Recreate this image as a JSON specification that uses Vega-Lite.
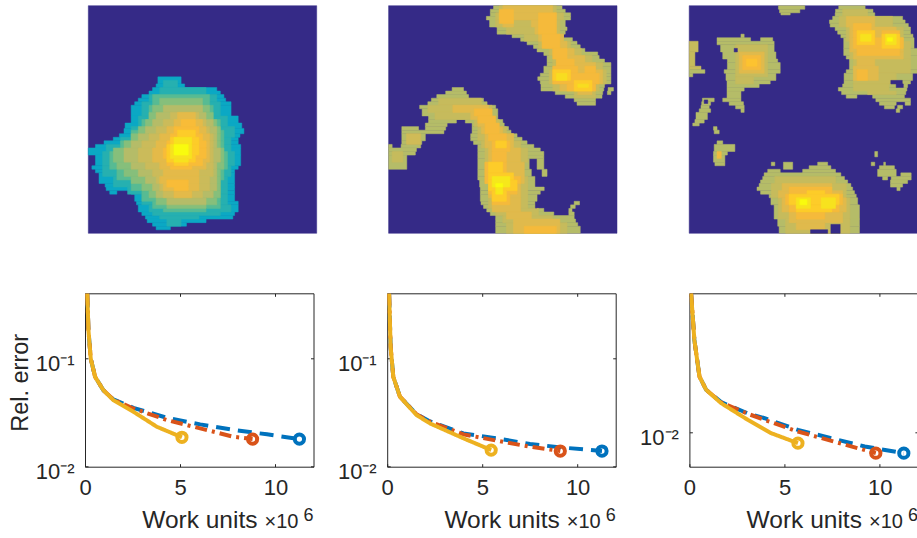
{
"$schema":"https://vega.github.io/schema/vega-lite/v6.json",
"autosize":{"type":"none"},
"padding":{"left":85,"top":5.7,"right":832,"bottom":532.3},
"bounds":"flush",
"spacing":287.6,
"config":{"view":{"stroke":null},"font":"Liberation Sans"},
"datasets":{
"img1":[
{"x0":0,"x1":64,"y0":0,"y1":64,"v":0},
{"x0":19.5,"x1":26,"y0":20,"y1":22,"v":0.38},{"x0":19,"x1":27,"y0":22,"y1":23,"v":0.38},{"x0":18,"x1":36,"y0":23,"y1":24,"v":0.38},{"x0":17,"x1":37,"y0":24,"y1":25,"v":0.38},{"x0":15,"x1":38,"y0":25,"y1":26,"v":0.38},{"x0":14,"x1":38.5,"y0":26,"y1":27,"v":0.38},{"x0":13,"x1":40,"y0":27,"y1":28,"v":0.38},{"x0":12,"x1":40,"y0":28,"y1":31,"v":0.38},{"x0":12,"x1":42,"y0":31,"y1":33,"v":0.38},{"x0":10.3,"x1":43,"y0":33,"y1":34.5,"v":0.38},{"x0":10,"x1":43.6,"y0":34.5,"y1":36,"v":0.38},{"x0":8.7,"x1":42.5,"y0":36,"y1":37,"v":0.38},{"x0":7,"x1":42,"y0":37,"y1":38,"v":0.38},{"x0":4.4,"x1":42,"y0":38,"y1":39,"v":0.38},{"x0":2,"x1":42.7,"y0":39,"y1":40,"v":0.38},{"x0":0,"x1":42.7,"y0":40,"y1":42,"v":0.38},{"x0":2,"x1":42.7,"y0":42,"y1":45,"v":0.38},{"x0":1,"x1":42,"y0":45,"y1":46,"v":0.38},{"x0":2,"x1":41,"y0":46,"y1":47,"v":0.38},{"x0":3,"x1":41,"y0":47,"y1":50,"v":0.38},{"x0":4.7,"x1":41,"y0":50,"y1":51,"v":0.38},{"x0":5,"x1":41,"y0":51,"y1":52,"v":0.38},{"x0":6,"x1":8,"y0":52,"y1":53,"v":0.38},{"x0":12,"x1":41,"y0":52,"y1":53,"v":0.38},{"x0":13,"x1":41,"y0":53,"y1":55,"v":0.38},{"x0":13.5,"x1":42,"y0":55,"y1":56,"v":0.38},{"x0":14,"x1":42,"y0":56,"y1":58,"v":0.38},{"x0":15,"x1":41,"y0":58,"y1":59,"v":0.38},{"x0":16,"x1":40.5,"y0":59,"y1":60,"v":0.38},{"x0":16.5,"x1":33,"y0":60,"y1":61,"v":0.38},{"x0":18,"x1":27.5,"y0":61,"y1":62,"v":0.38},{"x0":19,"x1":23,"y0":62,"y1":63,"v":0.38},
{"x0":21,"x1":25,"y0":21,"y1":23,"v":0.44},{"x0":20,"x1":33,"y0":23,"y1":25,"v":0.44},{"x0":17,"x1":36,"y0":25,"y1":27,"v":0.44},{"x0":15,"x1":37,"y0":27,"y1":31,"v":0.44},{"x0":14,"x1":39,"y0":31,"y1":34,"v":0.44},{"x0":12,"x1":41,"y0":34,"y1":37,"v":0.44},{"x0":9,"x1":40,"y0":37,"y1":39,"v":0.44},{"x0":5,"x1":40,"y0":39,"y1":41,"v":0.44},{"x0":4,"x1":41,"y0":41,"y1":45,"v":0.44},{"x0":4,"x1":40,"y0":45,"y1":48,"v":0.44},{"x0":7,"x1":39,"y0":48,"y1":51,"v":0.44},{"x0":11,"x1":39,"y0":51,"y1":53,"v":0.44},{"x0":15,"x1":39,"y0":53,"y1":56,"v":0.44},{"x0":17,"x1":40,"y0":56,"y1":58,"v":0.44},{"x0":18,"x1":37,"y0":58,"y1":59,"v":0.44},{"x0":20,"x1":31,"y0":59,"y1":60,"v":0.44},{"x0":22,"x1":26,"y0":60,"y1":62,"v":0.44},
{"x0":18,"x1":34,"y0":25,"y1":28,"v":0.54},{"x0":17,"x1":35,"y0":28,"y1":32,"v":0.54},{"x0":15,"x1":37,"y0":32,"y1":35,"v":0.54},{"x0":12,"x1":38,"y0":35,"y1":38,"v":0.54},{"x0":9,"x1":38,"y0":38,"y1":41,"v":0.54},{"x0":6,"x1":39,"y0":41,"y1":46,"v":0.54},{"x0":8,"x1":38,"y0":46,"y1":49,"v":0.54},{"x0":12,"x1":37,"y0":49,"y1":52,"v":0.54},{"x0":15,"x1":37,"y0":52,"y1":55,"v":0.54},{"x0":18,"x1":37,"y0":55,"y1":57,"v":0.54},{"x0":21,"x1":33,"y0":57,"y1":58,"v":0.54},
{"x0":20,"x1":32,"y0":26,"y1":28,"v":0.62},{"x0":18,"x1":34,"y0":28,"y1":30,"v":0.62},{"x0":17,"x1":35,"y0":30,"y1":32,"v":0.62},{"x0":16,"x1":36,"y0":32,"y1":34,"v":0.62},{"x0":14,"x1":37,"y0":34,"y1":36,"v":0.62},{"x0":12,"x1":37,"y0":36,"y1":38,"v":0.62},{"x0":10,"x1":37,"y0":38,"y1":40,"v":0.62},{"x0":7,"x1":38,"y0":40,"y1":44,"v":0.62},{"x0":8,"x1":38,"y0":44,"y1":46,"v":0.62},{"x0":10,"x1":37,"y0":46,"y1":48,"v":0.62},{"x0":12,"x1":37,"y0":48,"y1":50,"v":0.62},{"x0":15,"x1":37,"y0":50,"y1":52,"v":0.62},{"x0":17,"x1":37,"y0":52,"y1":54,"v":0.62},{"x0":19,"x1":36,"y0":54,"y1":56,"v":0.62},{"x0":22,"x1":33,"y0":56,"y1":57,"v":0.62},
{"x0":21,"x1":32,"y0":28,"y1":30,"v":0.68},{"x0":19,"x1":33,"y0":30,"y1":32,"v":0.68},{"x0":18,"x1":35,"y0":32,"y1":34,"v":0.68},{"x0":16,"x1":36,"y0":34,"y1":36,"v":0.68},{"x0":14,"x1":36,"y0":36,"y1":38,"v":0.68},{"x0":12,"x1":36,"y0":38,"y1":40,"v":0.68},{"x0":10,"x1":37,"y0":40,"y1":44,"v":0.68},{"x0":12,"x1":36,"y0":44,"y1":46,"v":0.68},{"x0":14,"x1":36,"y0":46,"y1":48,"v":0.68},{"x0":16,"x1":36,"y0":48,"y1":50,"v":0.68},{"x0":18,"x1":36,"y0":50,"y1":52,"v":0.68},{"x0":19,"x1":35,"y0":52,"y1":54,"v":0.68},{"x0":22,"x1":33,"y0":54,"y1":56,"v":0.68},
{"x0":23,"x1":31,"y0":30,"y1":32,"v":0.73},{"x0":21,"x1":33,"y0":32,"y1":34,"v":0.73},{"x0":19,"x1":34,"y0":34,"y1":36,"v":0.73},{"x0":17,"x1":35,"y0":36,"y1":38,"v":0.73},{"x0":15,"x1":35,"y0":38,"y1":40,"v":0.73},{"x0":14,"x1":35,"y0":40,"y1":44,"v":0.73},{"x0":16,"x1":35,"y0":44,"y1":46,"v":0.73},{"x0":18,"x1":35,"y0":46,"y1":48,"v":0.73},{"x0":19,"x1":34,"y0":48,"y1":50,"v":0.73},{"x0":20,"x1":34,"y0":50,"y1":52,"v":0.73},{"x0":21,"x1":32,"y0":52,"y1":54,"v":0.73},
{"x0":25,"x1":30,"y0":30,"y1":32,"v":0.79},{"x0":24,"x1":32,"y0":32,"y1":34,"v":0.79},{"x0":22,"x1":33,"y0":34,"y1":36,"v":0.79},{"x0":20,"x1":34,"y0":36,"y1":38,"v":0.79},{"x0":19,"x1":34,"y0":38,"y1":40,"v":0.79},{"x0":18,"x1":34,"y0":40,"y1":44,"v":0.79},{"x0":20,"x1":33,"y0":44,"y1":46,"v":0.79},{"x0":21,"x1":31,"y0":46,"y1":48,"v":0.79},{"x0":20,"x1":31,"y0":48,"y1":50,"v":0.79},{"x0":21,"x1":31,"y0":50,"y1":52,"v":0.79},{"x0":24,"x1":29,"y0":52,"y1":54,"v":0.79},
{"x0":26,"x1":30,"y0":32,"y1":34,"v":0.85},{"x0":24,"x1":31,"y0":34,"y1":36,"v":0.85},{"x0":23,"x1":32,"y0":36,"y1":38,"v":0.85},{"x0":22,"x1":33,"y0":38,"y1":40,"v":0.85},{"x0":21,"x1":33,"y0":40,"y1":43,"v":0.85},{"x0":22,"x1":32,"y0":43,"y1":45,"v":0.85},{"x0":23,"x1":29,"y0":45,"y1":46,"v":0.85},{"x0":22,"x1":28,"y0":49,"y1":51,"v":0.85},{"x0":24,"x1":28,"y0":51,"y1":52,"v":0.85},
{"x0":25,"x1":30,"y0":35,"y1":37,"v":0.9},{"x0":23,"x1":31,"y0":37,"y1":39,"v":0.9},{"x0":22,"x1":31,"y0":39,"y1":42,"v":0.9},{"x0":22,"x1":30,"y0":42,"y1":44,"v":0.9},{"x0":24,"x1":28,"y0":44,"y1":45,"v":0.9},
{"x0":24,"x1":29,"y0":37,"y1":39,"v":0.95},{"x0":23,"x1":29,"y0":39,"y1":43,"v":0.95},{"x0":24,"x1":28,"y0":43,"y1":44,"v":0.95},{"x0":24,"x1":28,"y0":39,"y1":42,"v":1}
],
"img2":[
{"x0":0,"x1":64,"y0":0,"y1":64,"v":0},
{"x0":29.4,"x1":48.6,"y0":0,"y1":1,"v":0.68},{"x0":28.5,"x1":49.5,"y0":1,"y1":2,"v":0.68},{"x0":28.5,"x1":51,"y0":2,"y1":3,"v":0.68},{"x0":27.4,"x1":51,"y0":3,"y1":4,"v":0.68},{"x0":28.3,"x1":49.5,"y0":4,"y1":6,"v":0.68},{"x0":30.4,"x1":50,"y0":6,"y1":7,"v":0.68},{"x0":30.4,"x1":49.5,"y0":7,"y1":8,"v":0.68},{"x0":34.6,"x1":49,"y0":8,"y1":9,"v":0.68},{"x0":37,"x1":51.5,"y0":9,"y1":10,"v":0.68},{"x0":38.8,"x1":52.8,"y0":10,"y1":11,"v":0.68},{"x0":40.6,"x1":53.7,"y0":11,"y1":12,"v":0.68},{"x0":41.6,"x1":55,"y0":12,"y1":13,"v":0.68},{"x0":43.5,"x1":58.6,"y0":13,"y1":14,"v":0.68},{"x0":44.4,"x1":59,"y0":14,"y1":15,"v":0.68},{"x0":44.4,"x1":60.5,"y0":15,"y1":16,"v":0.68},{"x0":44.4,"x1":62.3,"y0":16,"y1":17,"v":0.68},{"x0":43.5,"x1":62.3,"y0":17,"y1":19,"v":0.68},{"x0":42.5,"x1":62.3,"y0":19,"y1":20,"v":0.68},{"x0":41.8,"x1":62.3,"y0":20,"y1":21,"v":0.68},{"x0":42.5,"x1":62.3,"y0":21,"y1":22,"v":0.68},{"x0":42.7,"x1":60.5,"y0":22,"y1":23,"v":0.68},{"x0":42.7,"x1":60.3,"y0":23,"y1":24,"v":0.68},{"x0":61.5,"x1":63,"y0":23,"y1":24,"v":0.68},{"x0":46.7,"x1":60,"y0":24,"y1":25,"v":0.68},{"x0":61.3,"x1":62.3,"y0":24,"y1":25,"v":0.68},{"x0":49.5,"x1":59.8,"y0":25,"y1":26,"v":0.68},{"x0":52,"x1":58,"y0":26,"y1":27,"v":0.68},{"x0":52.8,"x1":58,"y0":27,"y1":28,"v":0.68},
{"x0":17.8,"x1":21,"y0":23,"y1":24,"v":0.68},{"x0":16,"x1":21.8,"y0":24,"y1":25,"v":0.68},{"x0":13.5,"x1":22.4,"y0":25,"y1":26,"v":0.68},{"x0":12,"x1":26.6,"y0":26,"y1":27,"v":0.68},{"x0":11,"x1":27.6,"y0":27,"y1":28,"v":0.68},{"x0":8.7,"x1":30,"y0":28,"y1":29,"v":0.68},{"x0":9.4,"x1":30.6,"y0":29,"y1":31,"v":0.68},{"x0":11.2,"x1":30.6,"y0":31,"y1":32,"v":0.68},{"x0":11.2,"x1":19,"y0":32,"y1":33,"v":0.68},{"x0":21.5,"x1":32,"y0":32,"y1":33,"v":0.68},{"x0":10.3,"x1":16.4,"y0":33,"y1":34,"v":0.68},{"x0":23.4,"x1":32.4,"y0":33,"y1":34,"v":0.68},{"x0":3.7,"x1":8.4,"y0":34,"y1":35,"v":0.68},{"x0":10.3,"x1":16,"y0":34,"y1":35,"v":0.68},{"x0":23.4,"x1":33.6,"y0":34,"y1":35,"v":0.68},{"x0":3.7,"x1":15.5,"y0":35,"y1":36,"v":0.68},{"x0":23.4,"x1":34.3,"y0":35,"y1":36,"v":0.68},{"x0":3.7,"x1":10.3,"y0":36,"y1":38,"v":0.68},{"x0":23,"x1":36,"y0":36,"y1":37,"v":0.68},{"x0":23,"x1":37.4,"y0":37,"y1":38,"v":0.68},{"x0":3.7,"x1":9.3,"y0":38,"y1":39,"v":0.68},{"x0":23.8,"x1":38.8,"y0":38,"y1":39,"v":0.68},{"x0":0,"x1":1,"y0":39,"y1":40,"v":0.68},{"x0":3.5,"x1":9,"y0":39,"y1":40,"v":0.68},{"x0":25,"x1":40.7,"y0":39,"y1":40,"v":0.68},{"x0":0,"x1":7.8,"y0":40,"y1":41,"v":0.68},{"x0":25,"x1":42.5,"y0":40,"y1":41,"v":0.68},{"x0":0,"x1":7.5,"y0":41,"y1":42,"v":0.68},{"x0":25,"x1":43.5,"y0":41,"y1":42,"v":0.68},{"x0":0,"x1":5.1,"y0":42,"y1":46,"v":0.68},{"x0":25,"x1":35.8,"y0":42,"y1":43,"v":0.68},{"x0":38.6,"x1":43.5,"y0":42,"y1":43,"v":0.68},{"x0":25,"x1":39.4,"y0":43,"y1":46,"v":0.68},{"x0":41.6,"x1":43.5,"y0":43,"y1":46,"v":0.68},{"x0":25,"x1":40,"y0":46,"y1":48,"v":0.68},{"x0":43,"x1":44.4,"y0":46,"y1":48,"v":0.68},{"x0":25,"x1":41,"y0":48,"y1":49,"v":0.68},{"x0":25.5,"x1":41,"y0":49,"y1":51,"v":0.68},{"x0":25.7,"x1":43.6,"y0":51,"y1":52,"v":0.68},{"x0":25.7,"x1":42.5,"y0":52,"y1":53,"v":0.68},{"x0":25.7,"x1":41.6,"y0":53,"y1":55,"v":0.68},{"x0":25.9,"x1":41,"y0":55,"y1":56,"v":0.68},{"x0":52,"x1":53.5,"y0":55,"y1":56,"v":0.68},{"x0":26.6,"x1":41,"y0":56,"y1":57,"v":0.68},{"x0":51,"x1":52.3,"y0":56,"y1":57,"v":0.68},{"x0":27.5,"x1":41,"y0":57,"y1":58,"v":0.68},{"x0":41.6,"x1":43.5,"y0":57,"y1":58,"v":0.68},{"x0":50.5,"x1":51.4,"y0":57,"y1":58,"v":0.68},{"x0":28.5,"x1":46.3,"y0":58,"y1":59,"v":0.68},{"x0":50.5,"x1":52,"y0":58,"y1":59,"v":0.68},{"x0":30,"x1":52,"y0":59,"y1":60,"v":0.68},{"x0":30,"x1":52.4,"y0":60,"y1":61,"v":0.68},{"x0":30,"x1":53,"y0":61,"y1":62,"v":0.68},{"x0":30,"x1":53.7,"y0":62,"y1":64,"v":0.68},
{"x0":31,"x1":47,"y0":0,"y1":2,"v":0.72},{"x0":30,"x1":49,"y0":2,"y1":4,"v":0.72},{"x0":30,"x1":48,"y0":4,"y1":6,"v":0.72},{"x0":33,"x1":48,"y0":6,"y1":8,"v":0.72},{"x0":38,"x1":49,"y0":8,"y1":10,"v":0.72},{"x0":42,"x1":51,"y0":10,"y1":12,"v":0.72},{"x0":45,"x1":54,"y0":12,"y1":14,"v":0.72},{"x0":46,"x1":57,"y0":14,"y1":16,"v":0.72},{"x0":46,"x1":60,"y0":16,"y1":18,"v":0.72},{"x0":45,"x1":61,"y0":18,"y1":22,"v":0.72},{"x0":46,"x1":59,"y0":22,"y1":24,"v":0.72},{"x0":52,"x1":58,"y0":24,"y1":26,"v":0.72},
{"x0":14,"x1":26,"y0":26,"y1":28,"v":0.72},{"x0":11,"x1":29,"y0":28,"y1":30,"v":0.72},{"x0":13,"x1":29,"y0":30,"y1":32,"v":0.72},{"x0":24,"x1":31,"y0":32,"y1":34,"v":0.72},{"x0":25,"x1":33,"y0":34,"y1":36,"v":0.72},{"x0":25,"x1":35,"y0":36,"y1":38,"v":0.72},{"x0":26,"x1":37,"y0":38,"y1":40,"v":0.72},{"x0":27,"x1":39,"y0":40,"y1":44,"v":0.72},{"x0":27,"x1":38,"y0":44,"y1":48,"v":0.72},{"x0":27,"x1":39,"y0":48,"y1":50,"v":0.72},{"x0":28,"x1":39,"y0":50,"y1":57,"v":0.72},{"x0":30,"x1":42,"y0":57,"y1":59,"v":0.72},{"x0":32,"x1":46,"y0":59,"y1":61,"v":0.72},{"x0":33,"x1":50,"y0":61,"y1":64,"v":0.72},{"x0":5,"x1":9,"y0":36,"y1":39,"v":0.74},{"x0":1,"x1":4,"y0":41,"y1":44,"v":0.72},
{"x0":32,"x1":46,"y0":0,"y1":2,"v":0.78},{"x0":31,"x1":47,"y0":2,"y1":4,"v":0.78},{"x0":32,"x1":35,"y0":4,"y1":6,"v":0.78},{"x0":40,"x1":47,"y0":4,"y1":6,"v":0.78},{"x0":41,"x1":47,"y0":6,"y1":8,"v":0.78},{"x0":42,"x1":49,"y0":8,"y1":10,"v":0.78},{"x0":44,"x1":50,"y0":10,"y1":12,"v":0.78},{"x0":46,"x1":52,"y0":12,"y1":14,"v":0.78},{"x0":47,"x1":55,"y0":14,"y1":16,"v":0.78},{"x0":47,"x1":58,"y0":16,"y1":18,"v":0.78},{"x0":46,"x1":60,"y0":18,"y1":22,"v":0.78},{"x0":48,"x1":58,"y0":22,"y1":24,"v":0.78},{"x0":53,"x1":57,"y0":24,"y1":25,"v":0.78},
{"x0":18,"x1":28,"y0":28,"y1":30,"v":0.78},{"x0":23,"x1":28,"y0":30,"y1":32,"v":0.78},{"x0":25,"x1":30,"y0":32,"y1":34,"v":0.78},{"x0":26,"x1":32,"y0":34,"y1":36,"v":0.78},{"x0":27,"x1":35,"y0":36,"y1":40,"v":0.78},{"x0":28,"x1":37,"y0":40,"y1":44,"v":0.78},{"x0":27,"x1":38,"y0":44,"y1":50,"v":0.78},{"x0":28,"x1":37,"y0":50,"y1":54,"v":0.78},{"x0":29,"x1":37,"y0":54,"y1":58,"v":0.78},{"x0":33,"x1":40,"y0":58,"y1":60,"v":0.78},{"x0":35,"x1":48,"y0":60,"y1":64,"v":0.78},
{"x0":31,"x1":35,"y0":1,"y1":5,"v":0.84},{"x0":42,"x1":47,"y0":2,"y1":8,"v":0.84},{"x0":43,"x1":48,"y0":8,"y1":12,"v":0.84},{"x0":46,"x1":50,"y0":12,"y1":15,"v":0.84},{"x0":47,"x1":52,"y0":15,"y1":17,"v":0.84},{"x0":46,"x1":53,"y0":17,"y1":19,"v":0.84},{"x0":55,"x1":58,"y0":17,"y1":19,"v":0.84},{"x0":46,"x1":59,"y0":19,"y1":22,"v":0.84},{"x0":50,"x1":58,"y0":22,"y1":24,"v":0.84},
{"x0":24,"x1":29,"y0":29,"y1":31,"v":0.84},{"x0":25,"x1":30,"y0":31,"y1":33,"v":0.84},{"x0":27,"x1":31,"y0":33,"y1":36,"v":0.84},{"x0":28,"x1":33,"y0":36,"y1":38,"v":0.84},{"x0":29,"x1":34,"y0":38,"y1":41,"v":0.84},{"x0":29,"x1":33,"y0":41,"y1":44,"v":0.84},{"x0":27,"x1":33,"y0":44,"y1":48,"v":0.84},{"x0":27,"x1":37,"y0":48,"y1":50,"v":0.84},{"x0":28,"x1":36,"y0":50,"y1":53,"v":0.84},{"x0":29,"x1":34,"y0":53,"y1":56,"v":0.84},{"x0":38,"x1":47,"y0":62,"y1":64,"v":0.84},
{"x0":46,"x1":51,"y0":18,"y1":21,"v":0.9},{"x0":52,"x1":57,"y0":21,"y1":24,"v":0.9},{"x0":30,"x1":33,"y0":38,"y1":40,"v":0.9},{"x0":28,"x1":32,"y0":44,"y1":47,"v":0.9},{"x0":28,"x1":35,"y0":47,"y1":49,"v":0.9},{"x0":28,"x1":36,"y0":49,"y1":52,"v":0.9},{"x0":29,"x1":33,"y0":52,"y1":55,"v":0.9},
{"x0":47,"x1":50,"y0":19,"y1":21,"v":0.94},{"x0":53,"x1":56,"y0":22,"y1":23,"v":0.94},{"x0":29,"x1":34,"y0":48,"y1":51,"v":0.96},{"x0":30,"x1":32,"y0":51,"y1":53,"v":0.96},{"x0":30,"x1":32,"y0":50,"y1":51,"v":1}
],
"img3":[
{"x0":0,"x1":64,"y0":0,"y1":64,"v":0},
{"x0":25,"x1":32.4,"y0":0,"y1":1,"v":0.68},{"x0":25.3,"x1":31,"y0":1,"y1":2,"v":0.68},{"x0":25.7,"x1":28.3,"y0":2,"y1":2.6,"v":0.68},
{"x0":41.9,"x1":49.3,"y0":0,"y1":1,"v":0.68},{"x0":41,"x1":51.5,"y0":1,"y1":2,"v":0.68},{"x0":40.9,"x1":52,"y0":2,"y1":3,"v":0.68},{"x0":40.2,"x1":59.8,"y0":3,"y1":4,"v":0.68},{"x0":39.3,"x1":60.5,"y0":4,"y1":5,"v":0.68},{"x0":39.5,"x1":61.4,"y0":5,"y1":6,"v":0.68},{"x0":40.9,"x1":62,"y0":6,"y1":7,"v":0.68},{"x0":41.6,"x1":62,"y0":7,"y1":8,"v":0.68},{"x0":42.5,"x1":62.7,"y0":8,"y1":9,"v":0.68},{"x0":43.3,"x1":63,"y0":9,"y1":12,"v":0.68},{"x0":43.3,"x1":64,"y0":12,"y1":14,"v":0.68},{"x0":44,"x1":64,"y0":14,"y1":15,"v":0.68},{"x0":44.9,"x1":64,"y0":15,"y1":18,"v":0.68},{"x0":44,"x1":64,"y0":18,"y1":19,"v":0.68},{"x0":43.4,"x1":62.6,"y0":19,"y1":21,"v":0.68},{"x0":43.4,"x1":62,"y0":21,"y1":22,"v":0.68},{"x0":43,"x1":61.2,"y0":22,"y1":23,"v":0.68},{"x0":41.8,"x1":61,"y0":23,"y1":24,"v":0.68},{"x0":42.7,"x1":60.7,"y0":24,"y1":25,"v":0.68},{"x0":44,"x1":47,"y0":25,"y1":26,"v":0.68},{"x0":51.4,"x1":60.3,"y0":25,"y1":26,"v":0.68},{"x0":52.3,"x1":62,"y0":26,"y1":27,"v":0.68},{"x0":53.3,"x1":58,"y0":27,"y1":28,"v":0.68},{"x0":60.5,"x1":62,"y0":27,"y1":28,"v":0.68},{"x0":54.7,"x1":57.5,"y0":28,"y1":29,"v":0.68},{"x0":58.4,"x1":59.8,"y0":28,"y1":29,"v":0.68},{"x0":58,"x1":59,"y0":29,"y1":30,"v":0.68},
{"x0":14.5,"x1":15.4,"y0":8,"y1":9,"v":0.68},{"x0":7.8,"x1":17.2,"y0":9,"y1":10,"v":0.68},{"x0":20,"x1":23.4,"y0":9,"y1":10,"v":0.68},{"x0":7.8,"x1":23.8,"y0":10,"y1":11,"v":0.68},{"x0":8.8,"x1":23.8,"y0":11,"y1":13,"v":0.68},{"x0":9.4,"x1":24.3,"y0":13,"y1":15,"v":0.68},{"x0":10.7,"x1":24.8,"y0":15,"y1":16,"v":0.68},{"x0":10.7,"x1":25.5,"y0":16,"y1":18,"v":0.68},{"x0":9.8,"x1":25.5,"y0":18,"y1":19,"v":0.68},{"x0":10.3,"x1":24.3,"y0":19,"y1":21,"v":0.68},{"x0":10.6,"x1":22.7,"y0":21,"y1":22,"v":0.68},{"x0":10.6,"x1":19.6,"y0":22,"y1":23,"v":0.68},{"x0":10.6,"x1":15.4,"y0":23,"y1":24,"v":0.68},{"x0":10.6,"x1":14.5,"y0":24,"y1":26,"v":0.68},{"x0":9.4,"x1":14.5,"y0":26,"y1":27,"v":0.68},{"x0":11.2,"x1":15.2,"y0":27,"y1":28,"v":0.68},{"x0":13,"x1":15.4,"y0":28,"y1":29,"v":0.68},{"x0":14.5,"x1":15.4,"y0":29,"y1":30,"v":0.68},
{"x0":0,"x1":2.5,"y0":10,"y1":13,"v":0.72},{"x0":0,"x1":1.6,"y0":13,"y1":17,"v":0.72},{"x0":0,"x1":3.3,"y0":17,"y1":18,"v":0.72},{"x0":0,"x1":4.4,"y0":18,"y1":19,"v":0.68},{"x0":0,"x1":1,"y0":19,"y1":20,"v":0.68},
{"x0":3.7,"x1":7,"y0":26,"y1":27,"v":0.68},{"x0":3.5,"x1":6,"y0":27,"y1":28,"v":0.68},{"x0":3.3,"x1":5.6,"y0":28,"y1":29,"v":0.68},{"x0":2.8,"x1":6,"y0":29,"y1":30,"v":0.68},{"x0":1.9,"x1":5.1,"y0":30,"y1":32,"v":0.68},{"x0":1.6,"x1":4.2,"y0":32,"y1":33,"v":0.68},{"x0":1,"x1":2.8,"y0":33,"y1":33.8,"v":0.68},
{"x0":6.8,"x1":7.8,"y0":34,"y1":35,"v":0.68},{"x0":7,"x1":8.4,"y0":35,"y1":36,"v":0.68},
{"x0":7.8,"x1":9.4,"y0":38,"y1":39,"v":0.68},{"x0":7,"x1":12.8,"y0":39,"y1":41,"v":0.68},{"x0":6.8,"x1":10.7,"y0":41,"y1":42,"v":0.68},{"x0":6.8,"x1":10,"y0":42,"y1":44,"v":0.68},{"x0":7.2,"x1":10,"y0":44,"y1":45,"v":0.68},
{"x0":23,"x1":24,"y0":44,"y1":45,"v":0.68},{"x0":26.4,"x1":29,"y0":44,"y1":46,"v":0.68},{"x0":36,"x1":38.8,"y0":44,"y1":45,"v":0.68},{"x0":33.6,"x1":39.7,"y0":45,"y1":46,"v":0.68},{"x0":22,"x1":25.5,"y0":46,"y1":47,"v":0.68},{"x0":31.8,"x1":41,"y0":46,"y1":47,"v":0.68},{"x0":21,"x1":42.5,"y0":47,"y1":48,"v":0.68},{"x0":20.6,"x1":43.5,"y0":48,"y1":49,"v":0.68},{"x0":20,"x1":44.4,"y0":49,"y1":50,"v":0.68},{"x0":19.6,"x1":45.3,"y0":50,"y1":51,"v":0.68},{"x0":19,"x1":45.8,"y0":51,"y1":52,"v":0.68},{"x0":20,"x1":46.3,"y0":52,"y1":53,"v":0.68},{"x0":22.4,"x1":46.8,"y0":53,"y1":54,"v":0.68},{"x0":22.9,"x1":47.2,"y0":54,"y1":56,"v":0.68},{"x0":23.8,"x1":47.7,"y0":56,"y1":60,"v":0.68},{"x0":24.8,"x1":47.7,"y0":60,"y1":62,"v":0.68},{"x0":25.2,"x1":47.7,"y0":62,"y1":64,"v":0.68},
{"x0":52,"x1":52.8,"y0":41,"y1":42.5,"v":0.68},{"x0":51,"x1":52,"y0":44,"y1":45,"v":0.68},{"x0":54.5,"x1":55,"y0":44,"y1":45,"v":0.68},{"x0":53.3,"x1":57.5,"y0":45,"y1":46,"v":0.68},{"x0":52.8,"x1":58,"y0":46,"y1":48,"v":0.68},{"x0":59.3,"x1":62.2,"y0":47,"y1":48,"v":0.68},{"x0":54.2,"x1":55.6,"y0":48,"y1":49,"v":0.68},{"x0":56.6,"x1":62.2,"y0":48,"y1":49,"v":0.68},{"x0":56.4,"x1":61.2,"y0":49,"y1":50,"v":0.68},{"x0":56.4,"x1":59.8,"y0":50,"y1":51,"v":0.68},{"x0":58.2,"x1":59.1,"y0":51,"y1":52,"v":0.68},
{"x0":43,"x1":50,"y0":1,"y1":3,"v":0.72},{"x0":42,"x1":57,"y0":3,"y1":6,"v":0.72},{"x0":44,"x1":60,"y0":6,"y1":10,"v":0.72},{"x0":45,"x1":62,"y0":10,"y1":15,"v":0.72},{"x0":46,"x1":62,"y0":15,"y1":19,"v":0.72},{"x0":46,"x1":58,"y0":19,"y1":22,"v":0.72},{"x0":46,"x1":56,"y0":22,"y1":24,"v":0.72},{"x0":50,"x1":58,"y0":24,"y1":25,"v":0.72},
{"x0":13,"x1":22,"y0":11,"y1":20,"v":0.72},{"x0":13,"x1":18,"y0":20,"y1":22,"v":0.72},
{"x0":24,"x1":41,"y0":48,"y1":50,"v":0.72},{"x0":23,"x1":44,"y0":50,"y1":54,"v":0.72},{"x0":25,"x1":45,"y0":54,"y1":60,"v":0.72},{"x0":27,"x1":45,"y0":60,"y1":64,"v":0.72},
{"x0":44,"x1":52,"y0":3,"y1":6,"v":0.78},{"x0":45,"x1":58,"y0":6,"y1":9,"v":0.78},{"x0":45,"x1":60,"y0":9,"y1":13,"v":0.78},{"x0":46,"x1":60,"y0":13,"y1":15,"v":0.78},{"x0":47,"x1":52,"y0":15,"y1":17,"v":0.78},{"x0":46,"x1":53,"y0":17,"y1":21,"v":0.78},
{"x0":14,"x1":21,"y0":13,"y1":19,"v":0.78},{"x0":7.8,"x1":9,"y0":41,"y1":43,"v":0.82},
{"x0":26,"x1":40,"y0":50,"y1":52,"v":0.78},{"x0":25,"x1":43,"y0":52,"y1":54,"v":0.78},{"x0":26,"x1":44,"y0":54,"y1":58,"v":0.78},{"x0":28,"x1":43,"y0":58,"y1":61,"v":0.78},{"x0":30,"x1":38,"y0":61,"y1":63,"v":0.78},
{"x0":46,"x1":51,"y0":5,"y1":7,"v":0.84},{"x0":46,"x1":52,"y0":7,"y1":9,"v":0.84},{"x0":54,"x1":59,"y0":7,"y1":9,"v":0.84},{"x0":46,"x1":60,"y0":9,"y1":12,"v":0.84},{"x0":47,"x1":59,"y0":12,"y1":14,"v":0.84},{"x0":47,"x1":50,"y0":18,"y1":21,"v":0.84},
{"x0":15,"x1":20,"y0":14,"y1":18,"v":0.84},{"x0":16,"x1":19,"y0":15,"y1":17,"v":0.88},
{"x0":28,"x1":40,"y0":51,"y1":53,"v":0.84},{"x0":27,"x1":43,"y0":53,"y1":56,"v":0.84},{"x0":28,"x1":42,"y0":56,"y1":58,"v":0.84},{"x0":30,"x1":38,"y0":58,"y1":60,"v":0.84},
{"x0":47,"x1":52,"y0":7,"y1":11,"v":0.9},{"x0":54,"x1":59,"y0":8,"y1":12,"v":0.9},{"x0":33,"x1":38,"y0":52,"y1":53,"v":0.9},{"x0":28,"x1":42,"y0":53,"y1":56,"v":0.9},{"x0":30,"x1":40,"y0":56,"y1":58,"v":0.9},
{"x0":48,"x1":51,"y0":8,"y1":10,"v":0.95},{"x0":55,"x1":58,"y0":8,"y1":11,"v":0.95},{"x0":30,"x1":34,"y0":54,"y1":57,"v":0.95},{"x0":37,"x1":41,"y0":54,"y1":57,"v":0.95},
{"x0":55.5,"x1":57,"y0":9,"y1":10,"v":1},{"x0":31,"x1":33,"y0":54.5,"y1":56,"v":1},
{"x0":12.6,"x1":13.5,"y0":12,"y1":13,"v":0},{"x0":56.5,"x1":59.7,"y0":21,"y1":22,"v":0},{"x0":58,"x1":60,"y0":22,"y1":23,"v":0},{"x0":4.2,"x1":5.2,"y0":26.5,"y1":27.5,"v":0},{"x0":34,"x1":38.8,"y0":63,"y1":64,"v":0},{"x0":39.7,"x1":42.3,"y0":61.5,"y1":64,"v":0}
],
"err1":[
{"wu":0.12,"err":0.398,"s":"b"},{"wu":0.18,"err":0.183,"s":"b"},{"wu":0.3,"err":0.1,"s":"b"},{"wu":0.53,"err":0.0677,"s":"b"},{"wu":0.96,"err":0.051,"s":"b"},{"wu":1.49,"err":0.0418,"s":"b"},{"wu":2.54,"err":0.035,"s":"b"},{"wu":4.3,"err":0.0283,"s":"b"},{"wu":6.05,"err":0.0246,"s":"b"},{"wu":7.8,"err":0.0219,"s":"b"},{"wu":9.56,"err":0.0199,"s":"b"},{"wu":11.26,"err":0.018,"s":"b","end":1},
{"wu":0.12,"err":0.398,"s":"r"},{"wu":0.18,"err":0.183,"s":"r"},{"wu":0.3,"err":0.1,"s":"r"},{"wu":0.53,"err":0.0677,"s":"r"},{"wu":0.96,"err":0.051,"s":"r"},{"wu":1.49,"err":0.0418,"s":"r"},{"wu":2.54,"err":0.0345,"s":"r"},{"wu":4.3,"err":0.027,"s":"r"},{"wu":6.05,"err":0.0226,"s":"r"},{"wu":7.8,"err":0.0189,"s":"r"},{"wu":8.8,"err":0.018,"s":"r","end":1},
{"wu":0.12,"err":0.398,"s":"y"},{"wu":0.18,"err":0.183,"s":"y"},{"wu":0.3,"err":0.1,"s":"y"},{"wu":0.53,"err":0.0677,"s":"y"},{"wu":0.96,"err":0.051,"s":"y"},{"wu":1.49,"err":0.0412,"s":"y"},{"wu":2.54,"err":0.0322,"s":"y"},{"wu":3.77,"err":0.0234,"s":"y"},{"wu":5.09,"err":0.0187,"s":"y","end":1}
],
"err2":[
{"wu":0.1,"err":0.398,"s":"b"},{"wu":0.18,"err":0.128,"s":"b"},{"wu":0.32,"err":0.0677,"s":"b"},{"wu":0.67,"err":0.0443,"s":"b"},{"wu":1.54,"err":0.0305,"s":"b"},{"wu":2.25,"err":0.0262,"s":"b"},{"wu":4,"err":0.0203,"s":"b"},{"wu":5.75,"err":0.0183,"s":"b"},{"wu":7.5,"err":0.0162,"s":"b"},{"wu":9.26,"err":0.015,"s":"b"},{"wu":11.28,"err":0.01396,"s":"b","end":1},
{"wu":0.1,"err":0.398,"s":"r"},{"wu":0.18,"err":0.128,"s":"r"},{"wu":0.32,"err":0.0677,"s":"r"},{"wu":0.67,"err":0.0443,"s":"r"},{"wu":1.54,"err":0.0305,"s":"r"},{"wu":2.25,"err":0.026,"s":"r"},{"wu":4,"err":0.0199,"s":"r"},{"wu":5.75,"err":0.0174,"s":"r"},{"wu":7.5,"err":0.0153,"s":"r"},{"wu":9.09,"err":0.01396,"s":"r","end":1},
{"wu":0.1,"err":0.398,"s":"y"},{"wu":0.18,"err":0.128,"s":"y"},{"wu":0.32,"err":0.0677,"s":"y"},{"wu":0.67,"err":0.0443,"s":"y"},{"wu":1.54,"err":0.03,"s":"y"},{"wu":2.25,"err":0.0251,"s":"y"},{"wu":4,"err":0.0183,"s":"y"},{"wu":5.46,"err":0.01425,"s":"y","end":1}
],
"err3":[
{"wu":0.09,"err":0.4,"s":"b"},{"wu":0.26,"err":0.116,"s":"b"},{"wu":0.53,"err":0.0438,"s":"b"},{"wu":0.88,"err":0.0308,"s":"b"},{"wu":1.67,"err":0.0222,"s":"b"},{"wu":3.07,"err":0.0165,"s":"b"},{"wu":3.95,"err":0.0145,"s":"b"},{"wu":5.7,"err":0.01064,"s":"b"},{"wu":7.46,"err":0.00853,"s":"b"},{"wu":9.21,"err":0.00684,"s":"b"},{"wu":11.26,"err":0.00573,"s":"b","end":1},
{"wu":0.09,"err":0.4,"s":"r"},{"wu":0.26,"err":0.116,"s":"r"},{"wu":0.53,"err":0.0438,"s":"r"},{"wu":0.88,"err":0.0308,"s":"r"},{"wu":1.67,"err":0.022,"s":"r"},{"wu":3.07,"err":0.0163,"s":"r"},{"wu":3.95,"err":0.01387,"s":"r"},{"wu":5.7,"err":0.01018,"s":"r"},{"wu":7.46,"err":0.00794,"s":"r"},{"wu":9.79,"err":0.00573,"s":"r","end":1},
{"wu":0.09,"err":0.4,"s":"y"},{"wu":0.26,"err":0.116,"s":"y"},{"wu":0.53,"err":0.0438,"s":"y"},{"wu":0.88,"err":0.0308,"s":"y"},{"wu":1.67,"err":0.0216,"s":"y"},{"wu":3.07,"err":0.01387,"s":"y"},{"wu":4.3,"err":0.00973,"s":"y"},{"wu":5.7,"err":0.00747,"s":"y","end":1}
]
},
"vconcat":[
{"bounds":"flush","spacing":71.6,"hconcat":[
{"width":231.7,"height":227.6,"data":{"name":"img1"},"mark":{"type":"rect","strokeWidth":0.5},"encoding":{
"x":{"field":"x0","type":"quantitative","axis":null,"scale":{"domain":[-0.93,64],"nice":false,"zero":false}},"x2":{"field":"x1"},
"y":{"field":"y0","type":"quantitative","axis":null,"scale":{"domain":[64,0],"nice":false,"zero":false}},"y2":{"field":"y1"},
"color":{"field":"v","type":"quantitative","legend":null,"scale":{"domain":[0,0.38,0.44,0.55,0.65,0.68,0.75,0.82,0.84,0.87,0.9,0.93,0.97,1],"range":["#352a87","#0ba8c4","#26b0b0","#5cbc90","#98bf74","#b5bc68","#d5ba55","#f0ba40","#f5ba3b","#fdbf33","#fdcc29","#f8d823","#f5ed19","#f9fb0e"]}},
"stroke":{"field":"v","type":"quantitative","legend":null,"scale":{"domain":[0,0.38,0.44,0.55,0.65,0.68,0.75,0.82,0.84,0.87,0.9,0.93,0.97,1],"range":["#352a87","#0ba8c4","#26b0b0","#5cbc90","#98bf74","#b5bc68","#d5ba55","#f0ba40","#f5ba3b","#fdbf33","#fdcc29","#f8d823","#f5ed19","#f9fb0e"]}}}},
{"width":228.4,"height":227.6,"data":{"name":"img2"},"mark":{"type":"rect","strokeWidth":0.5},"encoding":{
"x":{"field":"x0","type":"quantitative","axis":null,"scale":{"domain":[0,64],"nice":false,"zero":false}},"x2":{"field":"x1"},
"y":{"field":"y0","type":"quantitative","axis":null,"scale":{"domain":[64,0],"nice":false,"zero":false}},"y2":{"field":"y1"},
"color":{"field":"v","type":"quantitative","legend":null,"scale":{"domain":[0,0.38,0.44,0.55,0.65,0.68,0.75,0.82,0.84,0.87,0.9,0.93,0.97,1],"range":["#352a87","#0ba8c4","#26b0b0","#5cbc90","#98bf74","#b5bc68","#d5ba55","#f0ba40","#f5ba3b","#fdbf33","#fdcc29","#f8d823","#f5ed19","#f9fb0e"]}},
"stroke":{"field":"v","type":"quantitative","legend":null,"scale":{"domain":[0,0.38,0.44,0.55,0.65,0.68,0.75,0.82,0.84,0.87,0.9,0.93,0.97,1],"range":["#352a87","#0ba8c4","#26b0b0","#5cbc90","#98bf74","#b5bc68","#d5ba55","#f0ba40","#f5ba3b","#fdbf33","#fdcc29","#f8d823","#f5ed19","#f9fb0e"]}}}},
{"width":228.4,"height":227.6,"data":{"name":"img3"},"mark":{"type":"rect","strokeWidth":0.5},"encoding":{
"x":{"field":"x0","type":"quantitative","axis":null,"scale":{"domain":[0,64],"nice":false,"zero":false}},"x2":{"field":"x1"},
"y":{"field":"y0","type":"quantitative","axis":null,"scale":{"domain":[64,0],"nice":false,"zero":false}},"y2":{"field":"y1"},
"color":{"field":"v","type":"quantitative","legend":null,"scale":{"domain":[0,0.38,0.44,0.55,0.65,0.68,0.75,0.82,0.84,0.87,0.9,0.93,0.97,1],"range":["#352a87","#0ba8c4","#26b0b0","#5cbc90","#98bf74","#b5bc68","#d5ba55","#f0ba40","#f5ba3b","#fdbf33","#fdcc29","#f8d823","#f5ed19","#f9fb0e"]}},
"stroke":{"field":"v","type":"quantitative","legend":null,"scale":{"domain":[0,0.38,0.44,0.55,0.65,0.68,0.75,0.82,0.84,0.87,0.9,0.93,0.97,1],"range":["#352a87","#0ba8c4","#26b0b0","#5cbc90","#98bf74","#b5bc68","#d5ba55","#f0ba40","#f5ba3b","#fdbf33","#fdcc29","#f8d823","#f5ed19","#f9fb0e"]}}}}
]},
{"bounds":"flush","spacing":73.2,"hconcat":[
{"width":228.5,"height":173.4,"resolve":{"axis":{"x":"independent","y":"independent"}},"layer":[
{"data":{"name":"err1"},"mark":{"type":"line","strokeWidth":4,"clip":true},"encoding":{
"x":{"field":"wu","type":"quantitative","scale":{"domain":[0,12],"nice":false,"zero":false},"axis":{"orient":"bottom","values":[0,5,10],"grid":false,"format":"d","labelFontSize":22,"labelColor":"#262626","labelPadding":14,"labelFlush":false,"tickSize":-3,"tickColor":"#262626","domainColor":"#262626","title":"Work units","titleFontSize":24.5,"titleFontWeight":"normal","titleColor":"#262626","titleAlign":"right","titleAnchor":"end","titleX":172,"titleY":61,"titleBaseline":"alphabetic"}},
"y":{"field":"err","type":"quantitative","scale":{"type":"log","domain":[0.01,0.4],"nice":false},"axis":{"orient":"left","values":[0.01,0.1],"grid":false,"labelExpr":"datum.value==0.1?'10⁻¹':'10⁻²'","labelFontSize":22,"labelColor":"#262626","labelPadding":14,"labelOffset":5,"tickSize":-3,"tickColor":"#262626","domainColor":"#262626","title":"Rel. error","titleFontSize":23.5,"titleFontWeight":"normal","titleColor":"#262626","titleX":-58,"titleY":89,"titleBaseline":"alphabetic","titleAngle":-90}},
"color":{"field":"s","type":"nominal","legend":null,"scale":{"domain":["b","r","y"],"range":["#0072bd","#d95319","#edb120"]}},
"strokeDash":{"field":"s","type":"nominal","legend":null,"scale":{"domain":["b","r","y"],"range":[[14,8],[12,5,3,5],[1,0]]}}}},
{"data":{"name":"err1"},"transform":[{"filter":"datum.end==1"}],"mark":{"type":"point","filled":false,"size":85,"strokeWidth":4,"opacity":1},"encoding":{
"x":{"field":"wu","type":"quantitative","scale":{"domain":[0,12],"nice":false,"zero":false},"axis":{"orient":"top","values":[0,5,10],"grid":false,"labels":false,"tickSize":-3,"tickColor":"#262626","domainColor":"#262626","title":null}},
"y":{"field":"err","type":"quantitative","scale":{"type":"log","domain":[0.01,0.4],"nice":false},"axis":{"orient":"right","values":[0.01,0.1],"grid":false,"labels":false,"tickSize":-3,"tickColor":"#262626","domainColor":"#262626","title":null}},
"color":{"field":"s","type":"nominal","legend":null,"scale":{"domain":["b","r","y"],"range":["#0072bd","#d95319","#edb120"]}}}},
{"data":{"values":[{"wu":12,"err":0.01,"t":"×10"}]},"mark":{"type":"text","align":"right","baseline":"alphabetic","fontSize":20,"dx":-15,"dy":61,"color":"#262626"},"encoding":{"x":{"field":"wu","type":"quantitative","axis":null},"y":{"field":"err","type":"quantitative","axis":null},"text":{"field":"t"}}},
{"data":{"values":[{"wu":12,"err":0.01,"t":"6"}]},"mark":{"type":"text","align":"right","baseline":"alphabetic","fontSize":18,"dx":0,"dy":54,"color":"#262626"},"encoding":{"x":{"field":"wu","type":"quantitative","axis":null},"y":{"field":"err","type":"quantitative","axis":null},"text":{"field":"t"}}}
]},
{"width":228.5,"height":173.4,"resolve":{"axis":{"x":"independent","y":"independent"}},"layer":[
{"data":{"name":"err2"},"mark":{"type":"line","strokeWidth":4,"clip":true},"encoding":{
"x":{"field":"wu","type":"quantitative","scale":{"domain":[0,12],"nice":false,"zero":false},"axis":{"orient":"bottom","values":[0,5,10],"grid":false,"format":"d","labelFontSize":22,"labelColor":"#262626","labelPadding":14,"labelFlush":false,"tickSize":-3,"tickColor":"#262626","domainColor":"#262626","title":"Work units","titleFontSize":24.5,"titleFontWeight":"normal","titleColor":"#262626","titleAlign":"right","titleAnchor":"end","titleX":172,"titleY":61,"titleBaseline":"alphabetic"}},
"y":{"field":"err","type":"quantitative","scale":{"type":"log","domain":[0.01,0.4],"nice":false},"axis":{"orient":"left","values":[0.01,0.1],"grid":false,"labelExpr":"datum.value==0.1?'10⁻¹':'10⁻²'","labelFontSize":22,"labelColor":"#262626","labelPadding":14,"labelOffset":5,"tickSize":-3,"tickColor":"#262626","domainColor":"#262626","title":null}},
"color":{"field":"s","type":"nominal","legend":null,"scale":{"domain":["b","r","y"],"range":["#0072bd","#d95319","#edb120"]}},
"strokeDash":{"field":"s","type":"nominal","legend":null,"scale":{"domain":["b","r","y"],"range":[[14,8],[12,5,3,5],[1,0]]}}}},
{"data":{"name":"err2"},"transform":[{"filter":"datum.end==1"}],"mark":{"type":"point","filled":false,"size":85,"strokeWidth":4,"opacity":1},"encoding":{
"x":{"field":"wu","type":"quantitative","scale":{"domain":[0,12],"nice":false,"zero":false},"axis":{"orient":"top","values":[0,5,10],"grid":false,"labels":false,"tickSize":-3,"tickColor":"#262626","domainColor":"#262626","title":null}},
"y":{"field":"err","type":"quantitative","scale":{"type":"log","domain":[0.01,0.4],"nice":false},"axis":{"orient":"right","values":[0.01,0.1],"grid":false,"labels":false,"tickSize":-3,"tickColor":"#262626","domainColor":"#262626","title":null}},
"color":{"field":"s","type":"nominal","legend":null,"scale":{"domain":["b","r","y"],"range":["#0072bd","#d95319","#edb120"]}}}},
{"data":{"values":[{"wu":12,"err":0.01,"t":"×10"}]},"mark":{"type":"text","align":"right","baseline":"alphabetic","fontSize":20,"dx":-15,"dy":61,"color":"#262626"},"encoding":{"x":{"field":"wu","type":"quantitative","axis":null},"y":{"field":"err","type":"quantitative","axis":null},"text":{"field":"t"}}},
{"data":{"values":[{"wu":12,"err":0.01,"t":"6"}]},"mark":{"type":"text","align":"right","baseline":"alphabetic","fontSize":18,"dx":0,"dy":54,"color":"#262626"},"encoding":{"x":{"field":"wu","type":"quantitative","axis":null},"y":{"field":"err","type":"quantitative","axis":null},"text":{"field":"t"}}}
]},
{"width":228.5,"height":173.4,"resolve":{"axis":{"x":"independent","y":"independent"}},"layer":[
{"data":{"name":"err3"},"mark":{"type":"line","strokeWidth":4,"clip":true},"encoding":{
"x":{"field":"wu","type":"quantitative","scale":{"domain":[0,12],"nice":false,"zero":false},"axis":{"orient":"bottom","values":[0,5,10],"grid":false,"format":"d","labelFontSize":22,"labelColor":"#262626","labelPadding":14,"labelFlush":false,"tickSize":-3,"tickColor":"#262626","domainColor":"#262626","title":"Work units","titleFontSize":24.5,"titleFontWeight":"normal","titleColor":"#262626","titleAlign":"right","titleAnchor":"end","titleX":172,"titleY":61,"titleBaseline":"alphabetic"}},
"y":{"field":"err","type":"quantitative","scale":{"type":"log","domain":[0.004,0.4],"nice":false},"axis":{"orient":"left","values":[0.01],"grid":false,"labelExpr":"'10⁻²'","labelFontSize":22,"labelColor":"#262626","labelPadding":14,"labelOffset":5,"tickSize":-3,"tickColor":"#262626","domainColor":"#262626","title":null}},
"color":{"field":"s","type":"nominal","legend":null,"scale":{"domain":["b","r","y"],"range":["#0072bd","#d95319","#edb120"]}},
"strokeDash":{"field":"s","type":"nominal","legend":null,"scale":{"domain":["b","r","y"],"range":[[14,8],[12,5,3,5],[1,0]]}}}},
{"data":{"name":"err3"},"transform":[{"filter":"datum.end==1"}],"mark":{"type":"point","filled":false,"size":85,"strokeWidth":4,"opacity":1},"encoding":{
"x":{"field":"wu","type":"quantitative","scale":{"domain":[0,12],"nice":false,"zero":false},"axis":{"orient":"top","values":[0,5,10],"grid":false,"labels":false,"tickSize":-3,"tickColor":"#262626","domainColor":"#262626","title":null}},
"y":{"field":"err","type":"quantitative","scale":{"type":"log","domain":[0.004,0.4],"nice":false},"axis":{"orient":"right","values":[0.01],"grid":false,"labels":false,"tickSize":-3,"tickColor":"#262626","domainColor":"#262626","title":null}},
"color":{"field":"s","type":"nominal","legend":null,"scale":{"domain":["b","r","y"],"range":["#0072bd","#d95319","#edb120"]}}}},
{"data":{"values":[{"wu":12,"err":0.004,"t":"×10"}]},"mark":{"type":"text","align":"right","baseline":"alphabetic","fontSize":20,"dx":-15,"dy":61,"color":"#262626"},"encoding":{"x":{"field":"wu","type":"quantitative","axis":null},"y":{"field":"err","type":"quantitative","axis":null},"text":{"field":"t"}}},
{"data":{"values":[{"wu":12,"err":0.004,"t":"6"}]},"mark":{"type":"text","align":"right","baseline":"alphabetic","fontSize":18,"dx":0,"dy":54,"color":"#262626"},"encoding":{"x":{"field":"wu","type":"quantitative","axis":null},"y":{"field":"err","type":"quantitative","axis":null},"text":{"field":"t"}}}
]}
]}
]
}
